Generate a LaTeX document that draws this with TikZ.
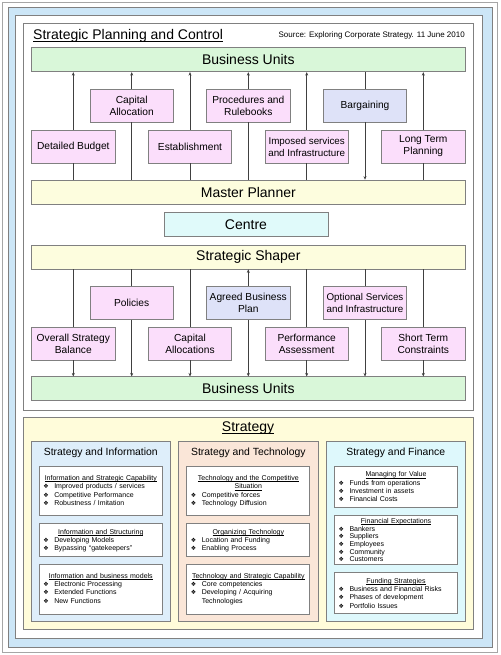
\documentclass[tikz,border=0pt]{standalone}
\usepackage{fontspec}
\setmainfont{Liberation Sans}
\newfontfamily\dejavu{DejaVu Sans}
\usetikzlibrary{arrows.meta}
\definecolor{lgray}{RGB}{128,128,128}
\definecolor{pinkbox}{RGB}{251,222,251}
\definecolor{lavbox}{RGB}{222,226,248}
\definecolor{greenbar}{RGB}{217,247,217}
\definecolor{yellowbar}{RGB}{253,253,222}
\definecolor{cyanbox}{RGB}{224,250,250}
\definecolor{blueband}{RGB}{204,230,247}
\definecolor{yellowpanel}{RGB}{255,252,218}
\definecolor{infocol}{RGB}{222,238,250}
\definecolor{techcol}{RGB}{250,230,216}
\definecolor{fincol}{RGB}{222,248,252}
\newcommand\bul{\makebox[11pt][l]{\dejavu\fontsize{6}{6}\selectfont ❖}}
\newcommand\ip{\parindent=0pt\relax}
\newsavebox\ulbox
% underline with given offset below baseline and thickness
\newcommand\myul[3]{\leavevmode\sbox\ulbox{#3}\rlap{\rule[-#1]{\wd\ulbox}{#2}}\usebox\ulbox}
\newcommand\sul[1]{\myul{1.1pt}{0.4pt}{#1}}
\newcommand\bigul[1]{\myul{2.2pt}{0.8pt}{#1}}
\begin{document}
\begin{tikzpicture}[x=1pt,y=-1pt,
  bar/.style={draw=lgray, line width=0.7pt, minimum width=433.3pt, minimum height=24pt, inner sep=0pt, font=\fontsize{14}{16}\selectfont},
  sbox/.style={draw=lgray, line width=0.7pt, minimum width=83.3pt, minimum height=33pt, inner sep=1pt, align=center, font=\fontsize{10.2}{12}\selectfont},
  smallfont/.style={font=\fontsize{9.8}{12}\selectfont},
  ln/.style={draw=black!75, line width=0.5pt},
  arr/.style={draw=black!75, line width=0.5pt, -{Stealth[length=3.5pt,width=3pt]}},
  col/.style={draw=lgray, line width=0.7pt, minimum width=139.7pt, minimum height=180pt, inner sep=0pt},
  hdr/.style={inner sep=0pt, font=\fontsize{10.4}{12}\selectfont},
  ibox/.style={draw=lgray, line width=0.7pt, fill=white, minimum width=123pt, inner sep=0pt},
  itext/.style={anchor=north, text width=115pt, inner sep=0pt, align=left, font=\fontsize{7}{8.3}\selectfont},
  frame/.style={draw=lgray, line width=0.7pt}
]
\useasboundingbox (0,0) rectangle (500,655);
% frames
\draw[frame, draw=lgray!70, fill=white] (2.5,2.5) rectangle (497.5,652.5);
\draw[frame, fill=blueband] (8,7.5) rectangle (492,647);
\draw[frame, fill=white] (15,15.5) rectangle (482,638);
\draw[frame, fill=white] (23,23) rectangle (473,410);
\draw[frame, fill=yellowpanel] (23,417.5) rectangle (473,629.5);

% titles
\node[anchor=west, inner sep=0pt, font=\fontsize{14}{16}\selectfont] (ttl) at (33,36) {\bigul{Strategic Planning and Control}};
\node[anchor=east, inner sep=0pt, font=\fontsize{8}{9}\selectfont] (src) at (465,35) {Source: Exploring Corporate Strategy. 11 June 2010};

% bars
\node[bar, fill=greenbar] (bu1) at (248.3,59.8) {Business Units};
\node[bar, fill=yellowbar] (mp) at (248.3,192) {Master Planner};
\node[bar, fill=cyanbox, minimum width=164pt] (centre) at (246,224.3) {Centre};
\node[bar, fill=yellowbar] (ss) at (248.3,257) {Strategic Shaper};
\node[bar, fill=greenbar] (bu2) at (248.3,388.8) {Business Units};

% top boxes
\node[sbox, fill=pinkbox] (db) at (73.3,146.5) {Detailed Budget};
\node[sbox, fill=pinkbox] (ca) at (131.7,105.5) {Capital\\Allocation};
\node[sbox, fill=pinkbox] (es) at (190,146.5) {Establishment};
\node[sbox, fill=pinkbox] (pr) at (248.3,105.5) {Procedures and\\Rulebooks};
\node[sbox, smallfont, fill=pinkbox] (is) at (306.7,146.5) {Imposed services\\and Infrastructure};
\node[sbox, fill=lavbox] (bg) at (365,105.5) {Bargaining};
\node[sbox, fill=pinkbox] (lt) at (423.3,146.5) {Long Term\\Planning};

% bottom boxes
\node[sbox, fill=pinkbox] (osb) at (73.3,343.5) {Overall Strategy\\Balance};
\node[sbox, fill=pinkbox] (po) at (131.7,303) {Policies};
\node[sbox, fill=pinkbox] (cas) at (190,343.5) {Capital\\Allocations};
\node[sbox, fill=lavbox] (abp) at (248.3,303) {Agreed Business\\Plan};
\node[sbox, fill=pinkbox] (pa) at (306.7,343.5) {Performance\\Assessment};
\node[sbox, smallfont, fill=pinkbox] (os) at (365,303) {Optional Services\\and Infrastructure};
\node[sbox, fill=pinkbox] (st) at (423.3,343.5) {Short Term\\Constraints};

% connectors top
\foreach \n in {db,ca,es,pr,is,lt}{
  \draw[ln] (\n.south) -- (\n.south |- mp.north);
  \draw[arr] (\n.north) -- (\n.north |- bu1.south);
}
\draw[ln] (bg.north) -- (bg.north |- bu1.south);
\draw[arr] (bg.south) -- (bg.south |- mp.north);

% connectors bottom
\foreach \n in {osb,po,cas,pa,os,st}{
  \draw[ln] (\n.north) -- (\n.north |- ss.south);
  \draw[arr] (\n.south) -- (\n.south |- bu2.north);
}
\draw[arr] (abp.north) -- (abp.north |- ss.south);
\draw[arr] (abp.south) -- (abp.south |- bu2.north);

% Strategy panel
\node[inner sep=0pt, font=\fontsize{14}{16}\selectfont] (stt) at (248,428) {\bigul{Strategy}};

\node[col, fill=infocol] (c1) at (100.8,531.7) {};
\node[col, fill=techcol] (c2) at (248.3,531.7) {};
\node[col, fill=fincol] (c3) at (395.8,531.7) {};
\node[hdr] (h1) at (100.8,453) {Strategy and Information};
\node[hdr] (h2) at (248.3,453) {Strategy and Technology};
\node[hdr] (h3) at (395.8,453) {Strategy and Finance};

% column 1
\node[ibox, minimum height=49.2pt] (i1a) at (100.8,491.1) {};
\node[ibox, minimum height=32.7pt] (i1b) at (100.8,539.7) {};
\node[ibox, minimum height=50pt] (i1c) at (100.8,589) {};
\node[itext] (t1a) at (100.8,475.4) {\ip\centerline{\sul{Information and Strategic Capability}}
\bul Improved products / services\par
\bul Competitive Performance\par
\bul Robustness / Imitation};
\node[itext] (t1b) at (100.8,529.1) {\ip\centerline{\sul{Information and Structuring}}
\bul Developing Models\par
\bul Bypassing “gatekeepers”};
\node[itext] (t1c) at (100.8,573.1) {\ip\centerline{\sul{Information and business models}}
\bul Electronic Processing\par
\bul Extended Functions\par
\bul New Functions};

% column 2
\node[ibox, minimum height=49.2pt] (i2a) at (248.3,491.1) {};
\node[ibox, minimum height=32.7pt] (i2b) at (248.3,539.7) {};
\node[ibox, minimum height=50pt] (i2c) at (248.3,589) {};
\node[itext] (t2a) at (248.3,475.4) {\ip\centerline{\sul{Technology and the Competitive}}
\centerline{\sul{Situation}}
\bul Competitive forces\par
\bul Technology Diffusion};
\node[itext] (t2b) at (248.3,529.1) {\ip\centerline{\sul{Organizing Technology}}
\bul Location and Funding\par
\bul Enabling Process};
\node[itext] (t2c) at (248.3,573.1) {\ip\centerline{\sul{Technology and Strategic Capability}}
\bul Core competencies\par
\bul Developing / Acquiring\par
\hspace*{11pt}Technologies};

% column 3
\node[ibox, minimum height=40.6pt] (i3a) at (396,487) {};
\node[ibox, minimum height=49pt] (i3b) at (396,539.8) {};
\node[ibox, minimum height=40.6pt] (i3c) at (396,593) {};
\node[itext] (t3a) at (396,471.7) {\ip\centerline{\sul{Managing for Value}}
\bul Funds from operations\par
\bul Investment in assets\par
\bul Financial Costs};
\node[itext, font=\fontsize{7}{7.6}\selectfont] (t3b) at (396,518.4) {\ip\centerline{\sul{Financial Expectations}}
\bul Bankers\par
\bul Suppliers\par
\bul Employees\par
\bul Community\par
\bul Customers};
\node[itext] (t3c) at (396,578.1) {\ip\centerline{\sul{Funding Strategies}}
\bul Business and Financial Risks\par
\bul Phases of development\par
\bul Portfolio Issues};
\end{tikzpicture}
\end{document}
